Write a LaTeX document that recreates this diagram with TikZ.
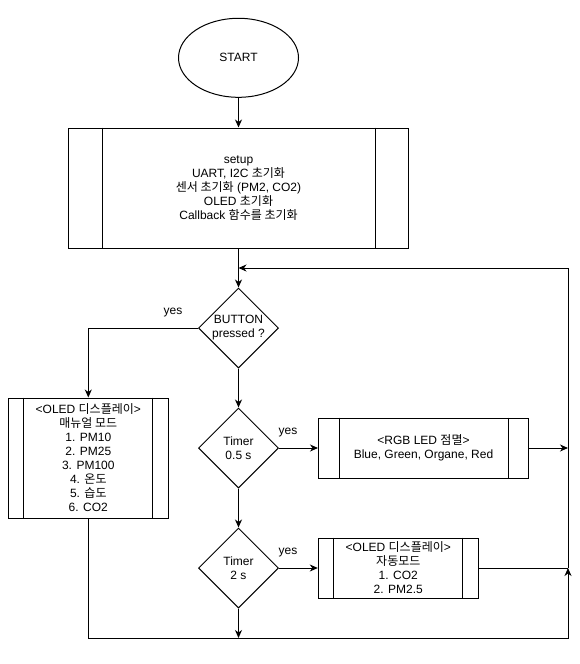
\documentclass[tikz,border=0pt]{standalone}
\usepackage{fontspec}
\setmainfont{Liberation Sans}
\newfontfamily\korfont{Noto Sans CJK KR}
\newcommand{\ko}[1]{{\korfont #1}}
\usetikzlibrary{shapes.geometric,arrows.meta}
\newcommand{\procbars}[2]{\draw([xshift=#2]#1.north west)--([xshift=#2]#1.south west)
  ([xshift=-#2]#1.north east)--([xshift=-#2]#1.south east);}
\begin{document}
\begin{tikzpicture}[x=1pt,y=-1pt,line width=1pt,font=\fontsize{12}{14}\selectfont,
  arr/.style={-{Stealth[length=8pt,width=7pt,inset=2.5pt]}},
  proc/.style={draw,rectangle,align=center,inner sep=0pt},
  dec/.style={draw,diamond,align=center,inner sep=0pt,minimum width=80pt,minimum height=80pt}]
\useasboundingbox(0,0)rectangle(580,664);
%
\node[draw,ellipse,minimum width=120pt,minimum height=79pt](start)at(238.5,57.8){START};
\node[proc,minimum width=340pt,minimum height=120pt](setup)at(238.5,188){setup\\UART, I2C \ko{초기화}\\\ko{센서 초기화} (PM2, CO2)\\OLED \ko{초기화}\\Callback \ko{함수를 초기화}};
\procbars{setup}{34pt}
\node[dec](button)at(238.5,328){BUTTON\\pressed ?};
\node[dec](timerA)at(238.5,448){Timer\\0.5 s};
\node[dec](timerB)at(238.5,568){Timer\\2 s};
\node[proc,minimum width=160pt,minimum height=120pt](manual)at(88.3,458){<OLED \ko{디스플레이}>\\\ko{매뉴얼 모드}\\1. PM10\\2. PM25\\3. PM100\\4. \ko{온도}\\5. \ko{습도}\\6. CO2};
\procbars{manual}{16pt}
\node[proc,minimum width=210pt,minimum height=60pt](rgb)at(423.5,448){<RGB LED \ko{점멸}>\\Blue, Green, Organe, Red};
\procbars{rgb}{21pt}
\node[proc,minimum width=160pt,minimum height=60pt](auto)at(398.3,568){<OLED \ko{디스플레이}>\\\ko{자동모드}\\1. CO2\\2. PM2.5};
\procbars{auto}{16pt}
%
\node(yesA)at(173,313){yes};
\node(yesB)at(288,433){yes};
\node(yesC)at(288,553){yes};
%
\coordinate(loopin)at(238.5,268);
\coordinate(loopr)at(568,268);
\coordinate(rA)at(568,448);
\coordinate(rB)at(568,568);
\coordinate(botr)at(568,638);
\coordinate(bot)at(238.5,638);
%
\draw[arr](start)--(setup);
\draw[arr](setup)--(button);
\draw[arr](rB)--(loopr)--(loopin);
\draw[arr](button.west)-|(manual.north);
\draw[arr](manual.south)|-(botr)--(rB);
\draw[arr](button)--(timerA);
\draw[arr](timerA.east)--(rgb.west);
\draw[arr](rgb.east)--(rA);
\draw[arr](timerA)--(timerB);
\draw[arr](timerB.east)--(auto.west);
\draw(auto.east)--(rB);
\draw[arr](timerB)--(bot);
\end{tikzpicture}
\end{document}
